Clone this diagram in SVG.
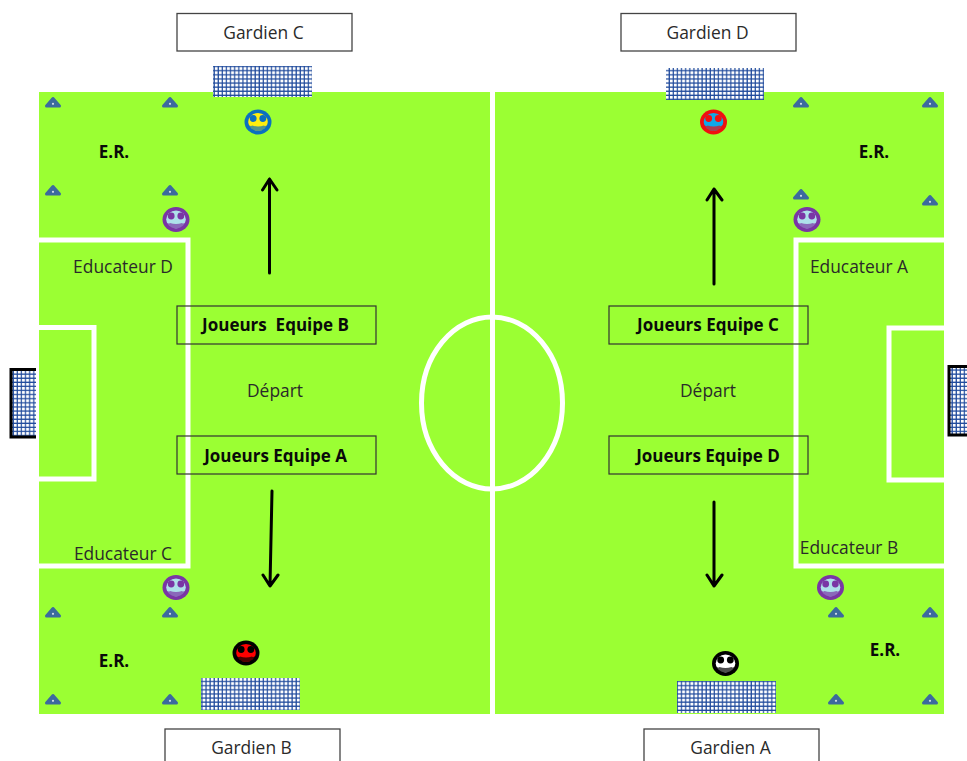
<svg xmlns="http://www.w3.org/2000/svg" width="967" height="761" viewBox="0 0 967 761">
<style>
text{font-family:"Open Sans","Liberation Sans",sans-serif;font-size:17.400px;fill:#2a2a2a;text-anchor:middle;white-space:pre}
.b{font-weight:700;fill:#0a0a0a;font-size:17px}
.line{fill:none;stroke:#fff;stroke-width:5}
.box{fill:none;stroke:#333;stroke-width:1.200}
.wbox{fill:#fff;stroke:#444;stroke-width:1.300}
.net{fill:url(#mesh)}
.arrow{fill:none;stroke:#000;stroke-width:3;stroke-linecap:round;stroke-linejoin:round}
</style>
<defs>
<pattern id="mesh" width="4.100" height="4.100" patternUnits="userSpaceOnUse">
<rect width="4.100" height="4.100" fill="#fff"/>
<path d="M1 0V4.100M0 1H4.100" stroke="#1f4a9c" stroke-width="1.200" fill="none"/>
</pattern>
<g id="cone"><path d="M0-4.500 L6.500 3H-6.500Z" fill="#3c6a9e" stroke="#3c6a9e" stroke-width="3" stroke-linejoin="round"/><circle cx="0" cy="0.800" r="1.100" fill="#d5e0ea"/></g>
<g id="smiley">
<ellipse rx="13.500" ry="12.500" fill="currentColor"/>
<ellipse rx="9.800" ry="9"/>
<circle cx="-4.800" cy="-3.500" r="3.400" fill="currentColor"/>
<circle cx="4.800" cy="-3.500" r="3.400" fill="currentColor"/>
<path d="M-10 2 Q-8 5-6 3.500 Q0 5.500 6 3.500 Q8 5 10 2 L10 6 Q0 12-10 6Z" fill="currentColor" opacity=".7"/>
</g>
</defs>
<rect width="967" height="761" fill="#fff"/>
<g id="field">
<rect x="39" y="92" width="451" height="622" fill="#9bff33"/>
<rect x="495" y="92" width="449" height="622" fill="#9bff33"/>
<path class="line" d="M39 240H188V566H39"/>
<path class="line" d="M39 327.500H94V479H39"/>
<path class="line" d="M944 240H796V566H944"/>
<path class="line" d="M944 328H889V480H944"/>
<ellipse class="line" cx="492" cy="403" rx="70.500" ry="86"/>
</g>
<g id="nets">
<rect class="net" x="213" y="66" width="99" height="31"/>
<rect class="net" x="666" y="68" width="98" height="32"/>
<rect class="net" x="201" y="678" width="99" height="32"/>
<rect class="net" x="677" y="681" width="99" height="32"/>
<path d="M36 369.500H11V437H36" fill="url(#mesh)" stroke="#000" stroke-width="3"/>
<path d="M967 366.500H949V435H967" fill="url(#mesh)" stroke="#000" stroke-width="3"/>
</g>
<g id="cones">
<use href="#cone" x="53" y="103"/><use href="#cone" x="170" y="103"/>
<use href="#cone" x="53" y="191"/><use href="#cone" x="170" y="191"/>
<use href="#cone" x="53" y="613"/><use href="#cone" x="170" y="613"/>
<use href="#cone" x="53" y="700"/><use href="#cone" x="170" y="700"/>
<use href="#cone" x="801" y="103"/><use href="#cone" x="930" y="103"/>
<use href="#cone" x="801" y="195"/><use href="#cone" x="930" y="201"/>
<use href="#cone" x="836" y="613"/><use href="#cone" x="930" y="613"/>
<use href="#cone" x="836" y="700"/><use href="#cone" x="930" y="700"/>
</g>
<g id="players">
<use href="#smiley" x="258" y="122" color="#0a70c0" fill="#ffee10"/>
<use href="#smiley" x="176" y="219.500" color="#7a35a5" fill="#aee0ea"/>
<use href="#smiley" x="176" y="587.500" color="#7a35a5" fill="#aee0ea"/>
<use href="#smiley" x="830.500" y="587.500" color="#7a35a5" fill="#aee0ea"/>
<use href="#smiley" x="807" y="219.500" color="#7a35a5" fill="#aee0ea"/>
<use href="#smiley" x="713.500" y="122" color="#f01010" fill="#10a8e8"/>
<use href="#smiley" x="246" y="653" color="#000" fill="#f00"/>
<use href="#smiley" x="725.500" y="663.500" color="#000" fill="#fff"/>
</g>
<g id="connectors">
<path class="arrow" d="M269.500 273V179M262.500 190L269.500 179L277 190"/>
<path class="arrow" d="M714 284V189M707 200L714 189L722 200"/>
<path class="arrow" d="M272 491L270 586M263 575L270 586L278 575"/>
<path class="arrow" d="M714 502V586M707 575L714 586L722 575"/>
</g>
<g id="gardien-c"><rect class="wbox" x="177" y="13.500" width="175" height="37.500"/><text x="263.500" y="38.500">Gardien C</text></g>
<g id="gardien-d"><rect class="wbox" x="621" y="13.500" width="175" height="37.500"/><text x="707.500" y="38.500">Gardien D</text></g>
<g id="gardien-b"><rect class="wbox" x="165" y="729" width="175" height="38"/><text x="251.500" y="754">Gardien B</text></g>
<g id="gardien-a"><rect class="wbox" x="644" y="729" width="175" height="38"/><text x="730.500" y="754">Gardien A</text></g>
<g id="joueurs-b"><rect class="box" x="177" y="306" width="199" height="38"/><text class="b" x="275.500" y="331">Joueurs  Equipe B</text></g>
<g id="joueurs-c"><rect class="box" x="609" y="306" width="199" height="38"/><text class="b" x="708" y="331">Joueurs Equipe C</text></g>
<g id="joueurs-a"><rect class="box" x="177" y="436" width="199" height="38"/><text class="b" x="275.500" y="461.500">Joueurs Equipe A</text></g>
<g id="joueurs-d"><rect class="box" x="609" y="436" width="199" height="38"/><text class="b" x="708" y="461.500">Joueurs Equipe D</text></g>
<g id="labels">
<text x="275" y="396.500">Départ</text>
<text x="708" y="396.500">Départ</text>
<text x="123" y="272.500">Educateur D</text>
<text x="123" y="559.500">Educateur C</text>
<text x="859" y="272.500">Educateur A</text>
<text x="849" y="554">Educateur B</text>
<text class="b" x="114" y="158">E.R.</text>
<text class="b" x="874" y="158">E.R.</text>
<text class="b" x="114" y="667">E.R.</text>
<text class="b" x="885" y="656">E.R.</text>
</g>
</svg>
